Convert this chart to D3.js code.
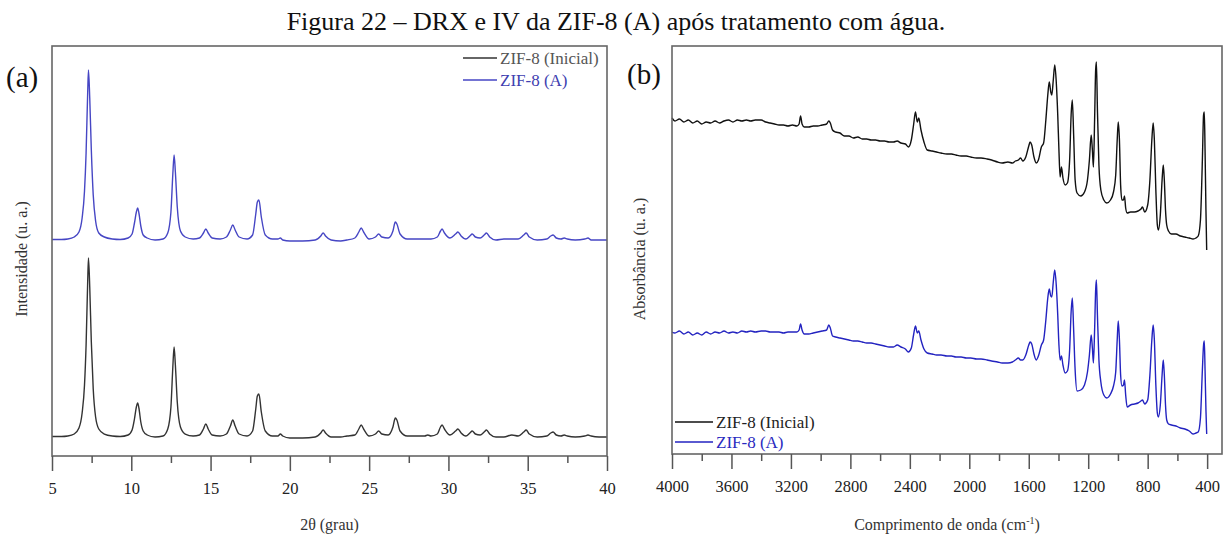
<!DOCTYPE html>
<html>
<head>
<meta charset="utf-8">
<script src="https://cdnjs.cloudflare.com/ajax/libs/d3/7.8.5/d3.min.js"></script>
<style>
  body { margin: 0; background: #fff; }
  svg, text { font-family: "Liberation Serif", "Times New Roman", serif; }
</style>
</head>
<body>
<script>
var width = 1230,
    height = 534;

// (a) DRX - 2θ (grau), intensidades (u. a.)
var xrdAngle = [
  5.0, 5.6, 6.0, 6.4, 6.7, 6.9, 7.05, 7.15, 7.25, 7.3, 7.38, 7.48, 7.6, 7.75, 7.95, 8.3, 8.8,
  9.3, 9.8, 10.05, 10.2, 10.32, 10.4, 10.48, 10.6, 10.75, 11.0, 11.5,
  12.0, 12.3, 12.5, 12.62, 12.7, 12.78, 12.9, 13.1, 13.4, 13.9,
  14.3, 14.55, 14.7, 14.85, 15.1, 15.6, 16.0, 16.25, 16.4, 16.55, 16.8, 17.3,
  17.65, 17.85, 17.95, 18.05, 18.2, 18.45, 18.9, 19.25, 19.4, 19.55, 20.0,
  20.8, 21.6, 21.95, 22.1, 22.25, 22.6, 23.2, 23.6,
  24.1, 24.35, 24.5, 24.65, 25.0, 25.4, 25.6, 25.8,
  26.2, 26.5, 26.65, 26.75, 26.95, 27.4, 28.0, 28.5, 28.7, 28.9,
  29.3, 29.5, 29.6, 29.75, 30.1, 30.45, 30.6, 30.8,
  31.1, 31.35, 31.5, 31.7, 32.0, 32.25, 32.4, 32.6, 33.0, 33.5,
  34.0, 34.4, 34.75, 34.9, 35.1, 35.6,
  36.2, 36.45, 36.6, 36.8, 37.1, 37.3, 37.5, 38.0, 38.6, 38.8, 39.0, 39.5, 40.0
];
var xrdInicial = [
  0.5, 0.5, 1, 3, 9, 24, 52, 92, 155, 179, 150, 95, 48, 20, 8, 3, 1,
  0.5, 2, 7, 18, 30, 34, 29, 15, 6, 2, 0,
  1, 8, 30, 70, 90, 72, 35, 10, 3, 1,
  2, 8, 13, 8, 2, 1, 3, 11, 17, 11, 3, 1,
  6, 28, 41, 43, 25, 6, 1, 1, 3, 1, -1,
  -1, 0, 4, 7, 4, 0, 0, 1,
  2, 8, 12, 8, 1, 3, 6, 3,
  2, 10, 19, 17, 6, 1, 1, 1, 2, 1,
  3, 10, 12, 8, 2, 6, 8, 4,
  1, 4, 6, 3, 2, 5, 7, 3, 0, 0,
  2, 1, 5, 7, 3, 0,
  1, 4, 5, 2, 1, 2, 1, 0, 1, 2, 1, 0, 0
];
var xrdA = [
  0.5, 0.5, 1, 3, 8, 22, 49, 87, 147, 170, 142, 90, 45, 19, 7, 3, 1,
  0.5, 2, 6, 17, 28, 32, 27, 14, 5, 2, 0,
  1, 7, 28, 66, 85, 68, 33, 9, 3, 1,
  2, 7, 11, 7, 2, 1, 3, 10, 15, 10, 3, 1,
  5, 26, 38, 40, 23, 5, 1, 1, 2, 0, -1,
  -1, 0, 4, 7, 4, 0, -1, 0,
  2, 8, 12, 8, 1, 3, 6, 3,
  2, 9, 18, 16, 6, 1, 1, 1, 1, 1,
  3, 9, 11, 7, 2, 6, 8, 4,
  1, 4, 6, 3, 2, 5, 7, 3, 0, 1,
  1, 1, 5, 7, 3, 0,
  1, 4, 5, 2, 1, 2, 1, 0, 1, 2, 0, 0, 0
];
var xrdTicks = [5, 10, 15, 20, 25, 30, 35, 40];
var xrdMinor = [7.5, 12.5, 17.5, 22.5, 27.5, 32.5, 37.5];

// (b) IV - número de onda (cm-1), absorbância (u. a.)
var irWavenumber = [
  4000, 3980, 3950, 3920, 3890, 3860, 3830, 3800, 3770, 3740,
  3710, 3680, 3650, 3620, 3590, 3560, 3530, 3500, 3470, 3440,
  3400, 3370, 3340, 3310, 3280, 3250, 3220, 3190, 3160, 3145,
  3135, 3125, 3110, 3080, 3050, 3020, 2990, 2960, 2945, 2935,
  2920, 2900, 2870, 2840, 2810, 2780, 2750, 2720, 2690, 2660,
  2630, 2600, 2570, 2540, 2510, 2485, 2460, 2430, 2410, 2390,
  2375, 2362, 2350, 2340, 2325, 2305, 2283, 2250, 2220, 2190,
  2150, 2120, 2090, 2055, 2020, 1990, 1950, 1921, 1880, 1850,
  1810, 1779, 1740, 1710, 1690, 1670, 1655, 1640, 1620, 1600,
  1591, 1580, 1565, 1550, 1535, 1515, 1500, 1485, 1472, 1462,
  1452, 1445, 1435, 1425, 1415, 1405, 1397, 1389, 1380, 1370,
  1355, 1340, 1325, 1315, 1307, 1298, 1288, 1275, 1250, 1225,
  1205, 1192, 1180, 1172, 1165, 1157, 1150, 1145, 1138, 1128,
  1115, 1095, 1075, 1050, 1030, 1015, 1005, 998, 990, 982,
  973, 963, 956, 948, 938, 915, 890, 865, 845, 835,
  820, 800, 785, 772, 763, 755, 745, 735, 728, 715,
  703, 695, 688, 680, 672, 660, 640, 610, 580, 550,
  520, 495, 475, 460, 445, 432, 424, 419, 414, 408, 403
];
var irInicial = [
  136, 133, 135, 132, 134, 131, 133, 130, 132, 131,
  133, 131, 133, 134, 132, 134, 133, 134, 133, 134,
  134, 132, 131, 130, 129, 129, 128, 129, 128, 130,
  138, 130, 127, 127, 128, 128, 129, 130, 133, 131,
  124, 122, 121, 118, 118, 116, 117, 115, 115, 114,
  114, 113, 113, 112, 112, 113, 111, 110, 107, 114,
  129, 142, 132, 136, 124, 112, 104, 103, 102, 101,
  100, 100, 99, 98, 98, 97, 96, 96, 95, 94,
  92, 91, 92, 91, 93, 94, 96, 93, 97, 108,
  112, 109, 97, 91, 94, 107, 111, 134, 159, 172,
  162, 159, 174, 189, 172, 139, 104, 77, 87, 76,
  69, 71, 94, 139, 154, 119, 74, 61, 58, 62,
  74, 94, 119, 104, 87, 134, 184, 192, 144, 89,
  64, 54, 51, 54, 62, 79, 114, 132, 114, 69,
  54, 54, 58, 46, 41, 42, 42, 43, 45, 47,
  42, 49, 74, 114, 131, 114, 64, 29, 24, 39,
  74, 89, 74, 44, 29, 23, 20, 20, 18, 17,
  16, 15, 16, 18, 34, 94, 139, 142, 104, 44, 4
];
var irA = [
  102, 101, 103, 100, 102, 99, 101, 99, 102, 100,
  102, 101, 103, 101, 102, 101, 103, 102, 103, 102,
  103, 103, 102, 102, 102, 101, 102, 102, 102, 104,
  110, 104, 100, 100, 101, 102, 103, 104, 109, 106,
  98, 97, 96, 95, 94, 93, 93, 92, 91, 91,
  90, 89, 88, 87, 87, 89, 87, 85, 82, 86,
  99, 108, 101, 103, 94, 85, 81, 80, 79, 79,
  78, 78, 77, 77, 76, 76, 75, 75, 74, 73,
  72, 71, 71, 72, 74, 76, 74, 74, 79, 89,
  92, 90, 80, 74, 78, 89, 94, 114, 136, 145,
  138, 137, 152, 164, 149, 119, 89, 74, 78, 69,
  61, 63, 84, 122, 136, 104, 64, 43, 44, 49,
  62, 79, 99, 86, 71, 104, 144, 154, 119, 74,
  52, 39, 36, 40, 48, 62, 94, 113, 94, 59,
  48, 49, 54, 39, 27, 29, 30, 31, 33, 34,
  30, 34, 59, 94, 109, 94, 49, 21, 17, 29,
  59, 74, 59, 29, 14, 10, 9, 8, 6, 5,
  3, 0, 1, 2, 16, 64, 89, 93, 64, 24, 0
];
var irTicks = [4000, 3600, 3200, 2800, 2400, 2000, 1600, 1200, 800, 400];
var irMinor = [3800, 3400, 3000, 2600, 2200, 1800, 1400, 1000, 600];

var seriesNames = ["ZIF-8 (Inicial)", "ZIF-8 (A)"];

var svg = d3.select("body").append("svg")
    .attr("width", width)
    .attr("height", height)
    .attr("font-family", "'Liberation Serif', serif");

svg.append("rect").attr("width", width).attr("height", height).attr("fill", "#fff");

svg.append("text")
    .attr("x", 616)
    .attr("y", 30)
    .attr("text-anchor", "middle")
    .style("font-size", "26px")
    .attr("fill", "#111")
    .text("Figura 22 – DRX e IV da ZIF-8 (A) após tratamento com água.");

function drawPanel(p) {
  var x = d3.scaleLinear().domain(p.xDomain).range([p.left, p.right]);
  var y = d3.scaleLinear().domain([0, p.bottom - p.top]).range([p.bottom, p.top]);
  var g = svg.append("g");

  // curves, stacked with an offset
  p.series.forEach(function(s) {
    var pts = p.xs.map(function(d, i) { return [d, s.values[i]]; });
    var line = d3.line()
        .x(function(d) { return x(d[0]); })
        .y(function(d) { return y(s.offset + d[1]); })
        .curve(d3.curveMonotoneX);
    g.append("path")
        .datum(pts)
        .attr("d", line)
        .attr("fill", "none")
        .attr("stroke", s.color)
        .attr("stroke-width", 1.4);
  });

  // frame
  g.append("rect")
      .attr("x", p.left).attr("y", p.top)
      .attr("width", p.right - p.left).attr("height", p.bottom - p.top)
      .attr("fill", "none")
      .attr("stroke", "#666")
      .attr("stroke-width", 1.6);

  // major + minor ticks, outward
  var major = g.append("g")
      .attr("transform", "translate(0," + p.bottom + ")")
      .call(d3.axisBottom(x).tickValues(p.ticks).tickSize(15).tickPadding(11)
            .tickFormat(d3.format("d")));
  var minor = g.append("g")
      .attr("transform", "translate(0," + p.bottom + ")")
      .call(d3.axisBottom(x).tickValues(p.minor).tickSize(7).tickFormat(""));
  [major, minor].forEach(function(a) {
    a.attr("font-family", null).attr("font-size", null);
    a.select(".domain").remove();
    a.selectAll("line").attr("stroke", "#555").attr("stroke-width", 1.5);
  });
  major.selectAll("text")
      .attr("fill", "#222")
      .style("font-size", "16.5px");

  // panel letter
  g.append("text")
      .attr("x", p.letterX).attr("y", p.letterY)
      .style("font-size", "29px")
      .attr("fill", "#111")
      .text(p.letter);

  // y title
  g.append("text")
      .attr("transform", "translate(" + p.yTitleX + ",259) rotate(-90)")
      .attr("text-anchor", "middle")
      .style("font-size", "16px")
      .attr("fill", "#333")
      .text(p.yTitle);

  // x title
  var xt = g.append("text")
      .attr("x", (p.left + p.right) / 2)
      .attr("y", 530)
      .attr("text-anchor", "middle")
      .style("font-size", "16px")
      .attr("fill", "#333");
  p.xTitle(xt);

  // legend
  p.series.forEach(function(s, i) {
    var ly = p.legendY + i * p.legendGap;
    g.append("line")
        .attr("x1", p.legendX).attr("x2", p.legendX + p.legendLen)
        .attr("y1", ly).attr("y2", ly)
        .attr("stroke", s.color).attr("stroke-width", 1.4);
    g.append("text")
        .attr("x", p.legendX + p.legendLen + 3)
        .attr("y", ly + 5.5)
        .style("font-size", "17px")
        .attr("fill", s.textColor)
        .text(seriesNames[i]);
  });
}

drawPanel({
  left: 52, right: 607, top: 46, bottom: 456,
  xDomain: [5, 40],
  xs: xrdAngle,
  ticks: xrdTicks, minor: xrdMinor,
  series: [
    { values: xrdInicial, offset: 19, color: "#333", textColor: "#555" },
    { values: xrdA, offset: 216, color: "#4646c4", textColor: "#4040b0" }
  ],
  letter: "(a)", letterX: 6, letterY: 87,
  yTitle: "Intensidade (u. a.)", yTitleX: 27,
  xTitle: function(t) { t.text("2θ (grau)"); },
  legendX: 463, legendLen: 34, legendY: 58, legendGap: 22
});

drawPanel({
  left: 672, right: 1222, top: 46, bottom: 454,
  xDomain: [4000, 300],
  xs: irWavenumber,
  ticks: irTicks, minor: irMinor,
  series: [
    { values: irInicial, offset: 200, color: "#111", textColor: "#222" },
    { values: irA, offset: 20, color: "#2323c0", textColor: "#2a2ac0" }
  ],
  letter: "(b)", letterX: 627, letterY: 84,
  yTitle: "Absorbância (u. a.)", yTitleX: 645,
  xTitle: function(t) {
    t.append("tspan").text("Comprimento de onda (cm");
    t.append("tspan").attr("dy", -6).style("font-size", "10px").text("-1");
    t.append("tspan").attr("dy", 6).text(")");
  },
  legendX: 675, legendLen: 38, legendY: 422, legendGap: 20
});
</script>
</body>
</html>
